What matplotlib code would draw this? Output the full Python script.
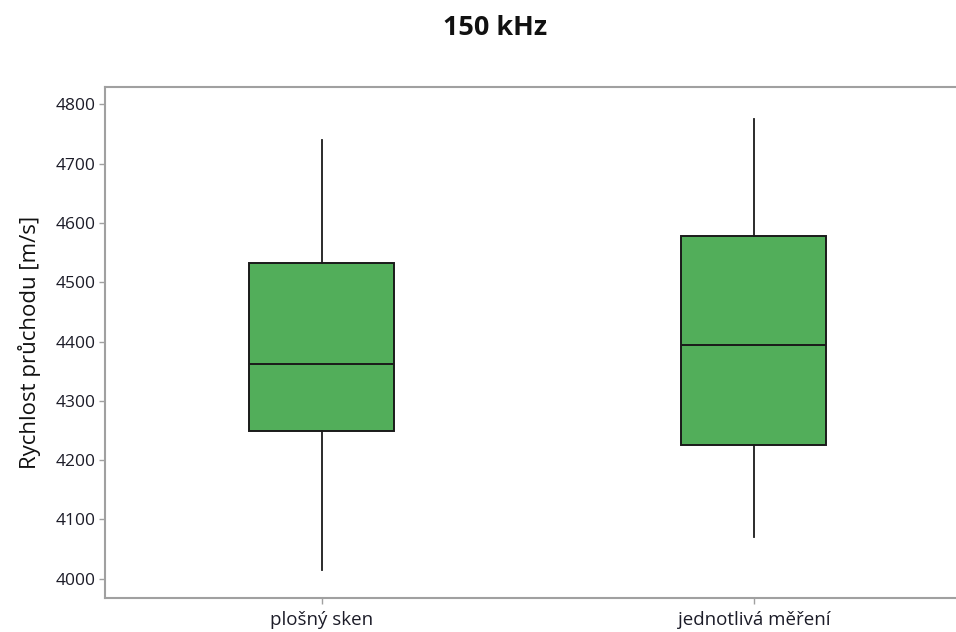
import matplotlib
matplotlib.use("Agg")
import matplotlib.pyplot as plt

categories = ["plošný sken", "jednotlivá měření"]
whisker_low = [4015, 4070]
q1 = [4250, 4226]
median = [4362, 4395]
q3 = [4533, 4578]
whisker_high = [4740, 4776]
yticks = [4000, 4100, 4200, 4300, 4400, 4500, 4600, 4700, 4800]

plt.rcParams['font.family'] = ['Open Sans', 'DejaVu Sans']

fig = plt.figure(figsize=(9.56, 6.32), dpi=100)
ax = fig.add_axes([0.1098, 0.0533, 0.8902, 0.8086])

stats = []
for i, c in enumerate(categories):
    stats.append(dict(label=c, whislo=whisker_low[i], q1=q1[i], med=median[i],
                      q3=q3[i], whishi=whisker_high[i], fliers=[]))

ax.bxp(stats, positions=[1, 2], widths=0.335, patch_artist=True,
       showcaps=False, showfliers=False,
       boxprops=dict(facecolor='#52AE5A', edgecolor='#1a1a1a', linewidth=1.4),
       medianprops=dict(color='#1a1a1a', linewidth=1.4),
       whiskerprops=dict(color='#1a1a1a', linewidth=1.3))

ax.set_xlim(0.498, 2.468)
ax.set_ylim(3967, 4829)
ax.set_yticks(yticks)
ax.set_yticklabels([str(t) for t in yticks])
ax.set_xticks([1, 2])
ax.set_xticklabels(categories)

for s in ['left', 'bottom', 'top']:
    ax.spines[s].set_color('#a0a0a0')
    ax.spines[s].set_linewidth(1.5)
ax.spines['right'].set_visible(False)
ax.tick_params(axis='both', colors='#a0a0a0', labelcolor='#1c1c28',
               length=4, width=1)
ax.tick_params(axis='y', labelsize=12.5, pad=3)
ax.tick_params(axis='x', labelsize=13.5, pad=5)

ax.set_ylabel("Rychlost průchodu [m/s]", fontsize=16, color='#111111',
              labelpad=10, fontweight='medium')
fig.text(0.518, 0.955, "150 kHz", ha='center', va='center', fontsize=19.5,
         fontweight='bold', color='#111111')

fig.savefig("out.png", dpi=100)
